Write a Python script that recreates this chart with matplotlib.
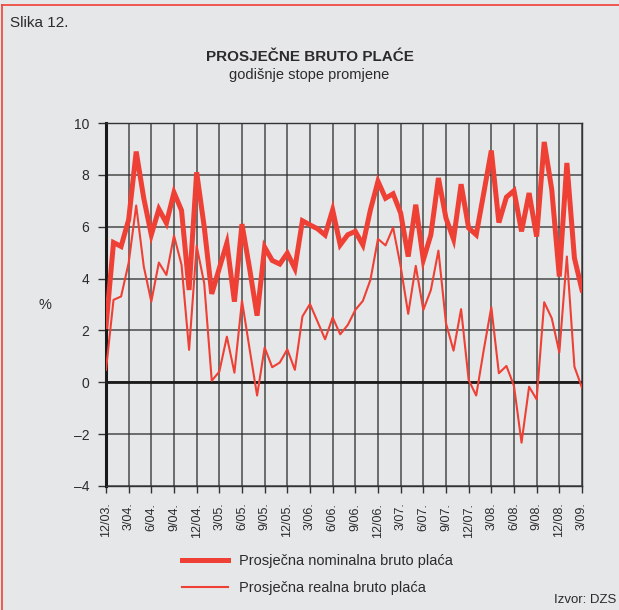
import matplotlib
matplotlib.use("Agg")
import matplotlib.pyplot as plt
import numpy as np

plt.rcParams['font.family'] = ['Liberation Sans', 'DejaVu Sans']

# mjesečni podaci, 12/03. - 3/09.
nominalna = [2.15, 5.39, 5.24, 6.27, 8.9, 7.1, 5.69, 6.68, 6.14, 7.32, 6.63, 3.56,
             8.1, 6.0, 3.41, 4.4, 5.37, 3.11, 6.1, 4.4, 2.57, 5.21, 4.7, 4.56,
             4.98, 4.39, 6.23, 6.07, 5.92, 5.68, 6.65, 5.3, 5.69, 5.82, 5.3, 6.65,
             7.75, 7.1, 7.27, 6.53, 4.85, 6.85, 4.72, 5.69, 7.88, 6.33, 5.52, 7.64,
             5.95, 5.69, 7.3, 8.94, 6.16, 7.14, 7.39, 5.82, 7.3, 5.62, 9.27, 7.43,
             4.08, 8.46, 4.79, 3.56]
realna = [0.48, 3.18, 3.31, 4.6, 6.82, 4.47, 3.11, 4.62, 4.14, 5.66, 4.53, 1.25,
          5.26, 3.82, 0.06, 0.41, 1.76, 0.37, 3.15, 1.3, -0.51, 1.34, 0.58, 0.76,
          1.27, 0.48, 2.54, 3.02, 2.34, 1.66, 2.5, 1.85, 2.21, 2.79, 3.14, 3.95,
          5.53, 5.28, 5.97, 4.47, 2.64, 4.49, 2.79, 3.56, 5.08, 2.28, 1.22, 2.82,
          0.09, -0.51, 1.25, 2.9, 0.35, 0.63, -0.14, -2.33, -0.17, -0.66, 3.09, 2.47,
          1.15, 4.85, 0.6, -0.21]
oznake = ["12/03.", "3/04.", "6/04.", "9/04.", "12/04.", "3/05.", "6/05.", "9/05.",
          "12/05.", "3/06.", "6/06.", "9/06.", "12/06.", "3/07.", "6/07.", "9/07.",
          "12/07.", "3/08.", "6/08.", "9/08.", "12/08.", "3/09."]

bg = "#e6e7e9"
red = "#ef4035"
txt = "#2b2b2b"

fig = plt.figure(figsize=(6.19, 6.10), dpi=100, facecolor=bg)
ax = fig.add_axes([0.1712, 0.2033, 0.769, 0.595])
ax.set_facecolor(bg)

x = np.arange(len(nominalna))
ax.set_xlim(0, len(nominalna) - 1)
ax.set_ylim(-4, 10)

ax.set_xticks(np.arange(0, len(nominalna), 3))
ax.set_xticklabels(oznake, rotation=90, fontsize=9, color=txt)
ax.set_yticks(np.arange(-4, 11, 2))
ax.set_yticklabels([str(v).replace("-", "\u2013") for v in range(-4, 11, 2)],
                   fontsize=10, color=txt)
ax.tick_params(axis="x", length=5, width=1, color="#333333", pad=7)
ax.tick_params(axis="y", length=6, width=1, color="#333333", pad=6)

ax.grid(True, color="#2e2e2e", linewidth=1.1, alpha=0.85)
ax.set_axisbelow(True)
for s in ["top", "right", "bottom"]:
    ax.spines[s].set_color("#333333")
    ax.spines[s].set_linewidth(1.0)
ax.spines["left"].set_color("#1a1a1a")
ax.spines["left"].set_linewidth(2.2)
ax.axhline(0, color="#1a1a1a", linewidth=2.0, zorder=1)

l1, = ax.plot(x, nominalna, color=red, linewidth=3.6, solid_joinstyle="miter", zorder=3)
l2, = ax.plot(x, realna, color=red, linewidth=1.5, zorder=3)

ax.set_ylabel("%", rotation=0, fontsize=10.5, color=txt, va="center", ha="center")
ax.yaxis.set_label_coords(-0.128, 0.499)

fig.text(0.016, 0.963, "Slika 12.", fontsize=11, color=txt, va="center")
fig.text(0.5, 0.906, "PROSJEČNE BRUTO PLAĆE", fontsize=11, fontweight="bold",
         color=txt, ha="center", va="center")
fig.text(0.5, 0.877, "godišnje stope promjene", fontsize=10.5, color=txt,
         ha="center", va="center")

fig.legend([l1, l2], ["Prosječna nominalna bruto plaća", "Prosječna realna bruto plaća"],
           loc="upper left", bbox_to_anchor=(0.294, 0.091), frameon=False,
           fontsize=10.5, handlelength=3.15, labelspacing=0.85, handletextpad=0.75,
           labelcolor=txt, borderaxespad=0, borderpad=0)
fig.text(0.995, 0.016, "Izvor: DZS", fontsize=9.5, color=txt, ha="right", va="center")

# crveni okvir
fig.add_artist(plt.Line2D([0.004, 0.004], [0, 0.992], color=red, linewidth=1.2,
                          transform=fig.transFigure))
fig.add_artist(plt.Line2D([0.004, 1.0], [0.992, 0.992], color=red, linewidth=1.2,
                          transform=fig.transFigure))

fig.savefig("out.png", dpi=100, facecolor=bg)
